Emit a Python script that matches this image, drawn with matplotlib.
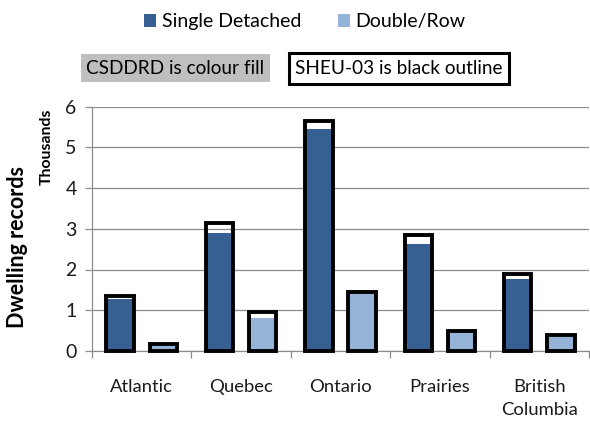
import matplotlib
matplotlib.use("Agg")
import matplotlib.pyplot as plt
from matplotlib.patches import Patch
import numpy as np

plt.rcParams["font.family"] = ["Lato", "DejaVu Sans"]

# dwelling record counts (thousands) by region
regions = ["Atlantic", "Quebec", "Ontario", "Prairies", "British\nColumbia"]
csddrd_single = [1.28, 2.90, 5.44, 2.62, 1.76]
csddrd_double = [0.12, 0.82, 1.42, 0.43, 0.35]
sheu_single = [1.36, 3.13, 5.65, 2.85, 1.88]
sheu_double = [0.17, 0.96, 1.45, 0.48, 0.39]

dark_blue = "#376092"
light_blue = "#95B3D7"
grid_grey = "#8C8C8C"

W, H = 590, 422
fig = plt.figure(figsize=(W / 100, H / 100), dpi=100)
ax = fig.add_axes([92 / W, 1 - 351 / H, (589 - 92) / W, (351 - 106.5) / H])

x = np.arange(len(regions))
off = 0.217
bw = 0.275

# CSDDRD as colour fill
ax.bar(x - off, csddrd_single, bw, color=dark_blue, zorder=2)
ax.bar(x + off, csddrd_double, bw, color=light_blue, zorder=2)
# SHEU-03 as black outline
for pos, vals in ((x - off, sheu_single), (x + off, sheu_double)):
    ax.bar(pos, vals, bw, fill=False, edgecolor="black", linewidth=2.8,
           zorder=3, clip_on=False)

ax.set_xlim(-0.5, len(regions) - 0.5)
ax.set_ylim(0, 6)
ax.set_yticks(range(7))
ax.grid(axis="y", color=grid_grey, linewidth=0.9)
ax.set_axisbelow(True)

ax.set_xticks(x)
ax.set_xticklabels(regions, fontsize=13.3, color="#1a1a1a")
for lbl in ax.get_xticklabels():
    lbl.set_linespacing(1.5)
ax.set_xticks(np.arange(-0.5, len(regions)), minor=True)
ax.tick_params(axis="x", which="major", length=0, pad=20.5)
ax.tick_params(axis="x", which="minor", length=5, color=grid_grey, width=0.9)
ax.tick_params(axis="y", length=5, color=grid_grey, width=0.9,
               labelsize=14, labelcolor="#1a1a1a", pad=6)

for side in ("top", "right"):
    ax.spines[side].set_visible(False)
for side in ("left", "bottom"):
    ax.spines[side].set_color(grid_grey)
    ax.spines[side].set_linewidth(0.9)

fig.text(18 / W, 1 - 247 / H, "Dwelling records", rotation=90, fontsize=15.5,
         fontweight="bold", ha="center", va="center")
fig.text(47 / W, 1 - 147 / H, "Thousands", rotation=90, fontsize=11.3,
         fontweight="bold", ha="center", va="center")

handles = [Patch(facecolor=dark_blue), Patch(facecolor=light_blue)]
fig.legend(handles, ["Single Detached", "Double/Row"], loc="center",
           bbox_to_anchor=(305 / W, 1 - 22 / H), ncol=2, frameon=False,
           fontsize=14, handlelength=0.6, handleheight=0.6,
           handletextpad=0.3, columnspacing=1.9)

fig.text(175.5 / W, 1 - 68 / H, "CSDDRD is colour fill", fontsize=13.7,
         ha="center", va="center",
         bbox=dict(boxstyle="square,pad=0.3", facecolor="#BFBFBF",
                   edgecolor="none"))
fig.text(399 / W, 1 - 68.5 / H, "SHEU-03 is black outline", fontsize=13.7,
         ha="center", va="center",
         bbox=dict(boxstyle="square,pad=0.35", facecolor="white",
                   edgecolor="black", linewidth=2.2))

fig.savefig("out.png", dpi=100)
